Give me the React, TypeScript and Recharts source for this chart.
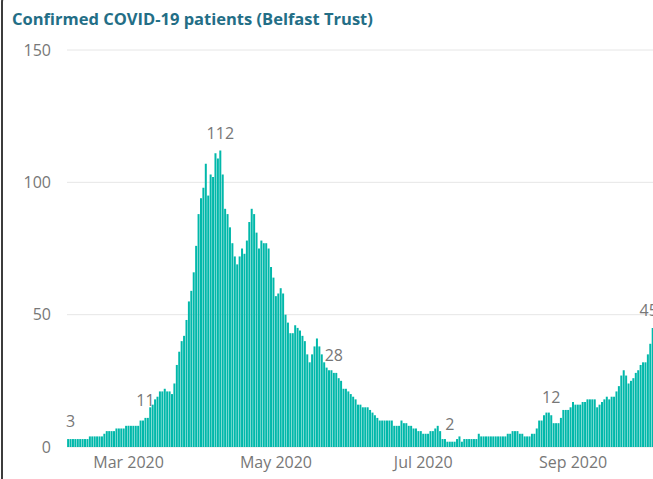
import React from 'react';
import { BarChart, Bar, XAxis, YAxis, CartesianGrid, LabelList } from 'recharts';

// one bar per day, starting 5 Feb 2020
const START_DAY = Date.UTC(2020, 1, 5);

const patients = [
  3, 3, 3, 3, 3, 3, 3, 3, 3, 4,
  4, 4, 4, 4, 4, 5, 6, 6, 6, 6,
  7, 7, 7, 7, 8, 8, 8, 8, 8, 8,
  10, 10, 11, 11, 15, 16, 18, 19, 21, 21,
  22, 21, 21, 20, 24, 31, 36, 40, 42, 48,
  55, 59, 66, 76, 88, 94, 98, 107, 95, 103,
  102, 111, 109, 112, 103, 90, 88, 83, 77, 72,
  69, 72, 75, 73, 78, 85, 90, 88, 81, 75,
  78, 77, 77, 75, 68, 64, 57, 58, 60, 58,
  50, 47, 43, 43, 46, 45, 44, 42, 40, 35,
  32, 35, 38, 41, 38, 35, 32, 30, 29, 29,
  28, 28, 26, 25, 22, 22, 21, 20, 19, 18,
  16, 16, 15, 15, 15, 14, 13, 12, 11, 10,
  10, 10, 10, 10, 10, 8, 8, 8, 10, 9,
  9, 8, 8, 7, 7, 6, 6, 5, 5, 5,
  6, 6, 7, 8, 6, 3, 3, 2, 2, 2,
  2, 3, 4, 2, 3, 3, 3, 3, 3, 3,
  5, 4, 4, 4, 4, 4, 4, 4, 4, 4,
  4, 4, 5, 5, 6, 6, 6, 5, 5, 4,
  4, 4, 5, 5, 7, 10, 10, 12, 13, 13,
  12, 9, 9, 9, 11, 14, 14, 14, 15, 17,
  16, 16, 16, 17, 17, 18, 18, 18, 18, 15,
  16, 17, 18, 19, 18, 19, 19, 21, 23, 27,
  29, 27, 24, 25, 26, 28, 29, 31, 32, 32,
  35, 39, 45,
];

// days that carry a value label
const labelledDays = [1, 32, 63, 110, 158, 200, 242];

const monthTicks = ['2020-03-01', '2020-05-01', '2020-07-01', '2020-09-01'];
const monthLabels = ['Mar 2020', 'May 2020', 'Jul 2020', 'Sep 2020'];
const yTicks = [0, 50, 100, 150];

const data = patients.map((v, i) => ({
  date: new Date(START_DAY + i * 86400000).toISOString().slice(0, 10),
  patients: v,
  label: labelledDays.includes(i) ? v : null,
}));

const FONT = "'Open Sans', sans-serif";

const PeakLabel = (props: any) => {
  const { x, y, width, value, index } = props;
  if (value == null) return null;
  // last label sits a bit left, as in the report
  const shift = index === patients.length - 1 ? -4 : 0;
  return (
    <text x={x + width / 2 + shift} y={y - 12} textAnchor="middle" fill="#777" fontSize={16} fontFamily={FONT}>
      {value}
    </text>
  );
};

export default function App() {
  return (
    <div style={{ position: 'fixed', left: 0, top: 0, width: 653, height: 479, overflow: 'hidden', background: '#fff' }}>
      <div
        style={{
          position: 'absolute', left: 1, top: -8, width: 700, height: 500,
          borderLeft: '2px solid #3c3c3c', borderTop: '2px solid #3c3c3c', borderTopLeftRadius: 10,
        }}
      />
      <div
        style={{
          position: 'absolute', left: 12, top: 7, fontFamily: FONT, fontSize: 16.5,
          fontWeight: 700, color: '#236e86', whiteSpace: 'nowrap',
        }}
      >
        Confirmed COVID-19 patients (Belfast Trust)
      </div>
      <div style={{ position: 'absolute', left: 0, top: 0 }}>
        <BarChart width={680} height={479} data={data} margin={{ top: 50, right: 26, left: 0, bottom: 0 }} barCategoryGap={0.12}>
          <CartesianGrid horizontal vertical={false} stroke="#e6e6e6" />
          <XAxis
            dataKey="date"
            ticks={monthTicks}
            interval={0}
            tickFormatter={(d: string) => monthLabels[monthTicks.indexOf(d)] ?? ''}
            axisLine={false}
            tickLine={false}
            tickSize={0}
            tickMargin={10}
            height={32}
            tick={{ fill: '#777', fontSize: 16, fontFamily: FONT }}
          />
          <YAxis
            domain={[0, 150]}
            ticks={yTicks}
            axisLine={false}
            tickLine={false}
            tickSize={0}
            tickMargin={16}
            width={67}
            tick={{ fill: '#777', fontSize: 16, fontFamily: FONT }}
          />
          <Bar dataKey="patients" fill="#01B8AA" isAnimationActive={false}>
            <LabelList dataKey="label" content={PeakLabel} />
          </Bar>
        </BarChart>
      </div>
    </div>
  );
}
